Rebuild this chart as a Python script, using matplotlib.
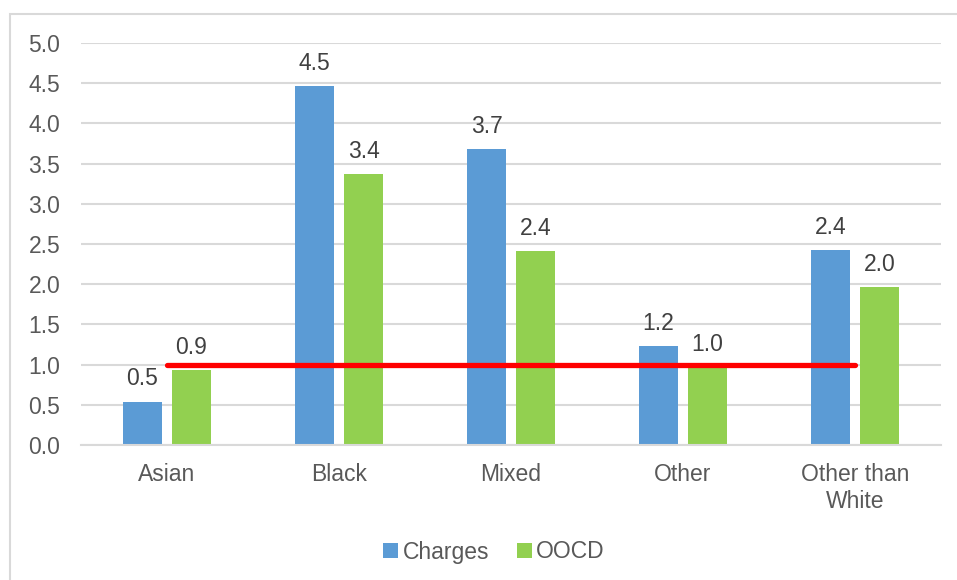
import matplotlib
matplotlib.use("Agg")
import matplotlib.pyplot as plt
import numpy as np
from matplotlib.patches import Rectangle

plt.rcParams['font.family'] = ['Liberation Sans', 'DejaVu Sans']

categories = ["Asian", "Black", "Mixed", "Other", "Other than\nWhite"]
charges = [0.54, 4.46, 3.68, 1.23, 2.43]
oocd = [0.93, 3.37, 2.41, 0.97, 1.97]
yticks = [0.0, 0.5, 1.0, 1.5, 2.0, 2.5, 3.0, 3.5, 4.0, 4.5, 5.0]
parity = 1.0

blue = "#5B9BD5"
green = "#92D050"
grid_c = "#D9D9D9"
text_c = "#595959"
label_c = "#404040"
fs = 16.5

W, H = 957, 580
fig = plt.figure(figsize=(W / 100, H / 100), dpi=100)

# chart frame (runs off the right and bottom edges)
fig.patches.append(Rectangle((10 / W, -0.05), 1.1, (H - 14) / H + 0.05,
                             transform=fig.transFigure, fill=False,
                             edgecolor=grid_c, linewidth=1.5, zorder=0))

ax = fig.add_axes([81 / W, 135 / H, (941 - 81) / W, (445 - 43) / H])

x = np.arange(len(categories))
bw = 39 / 172
off = 24.5 / 172
b1 = ax.bar(x - off, charges, bw, color=blue, label="Charges", zorder=2)
b2 = ax.bar(x + off, oocd, bw, color=green, label="OOCD", zorder=2)

for bars, vals in ((b1, charges), (b2, oocd)):
    for rect, v in zip(bars, vals):
        ax.annotate(f"{v:.1f}", (rect.get_x() + rect.get_width() / 2, v),
                    xytext=(0, 8), textcoords="offset points",
                    ha="center", va="bottom", fontsize=fs, color=label_c)

ax.plot([x[0], x[-1]], [parity, parity], color="#FF0000", linewidth=3.8,
        solid_capstyle="round", zorder=3)

ax.set_xlim(-0.5, len(categories) - 0.5)
ax.set_ylim(0, 5.0)
ax.set_yticks(yticks)
ax.set_yticklabels([f"{t:.1f}" for t in yticks])
ax.set_xticks(x)
ax.set_xticklabels(categories, linespacing=1.22)
ax.tick_params(axis="y", length=0, pad=15, labelsize=fs, labelcolor=text_c)
ax.tick_params(axis="x", length=0, pad=13, labelsize=fs, labelcolor=text_c)
ax.grid(axis="y", color=grid_c, linewidth=1.5, zorder=0)
ax.set_axisbelow(True)
for s in ("left", "right", "top"):
    ax.spines[s].set_visible(False)
ax.spines["bottom"].set_color(grid_c)
ax.spines["bottom"].set_linewidth(1.5)

leg = fig.legend(handles=[b1, b2], loc="center", bbox_to_anchor=(494 / W, (H - 552) / H),
                 ncol=2, frameon=False, fontsize=fs, handlelength=0.65, handleheight=0.65,
                 handletextpad=0.2, columnspacing=1.2, labelcolor=text_c)

fig.savefig("out.png", dpi=100)
